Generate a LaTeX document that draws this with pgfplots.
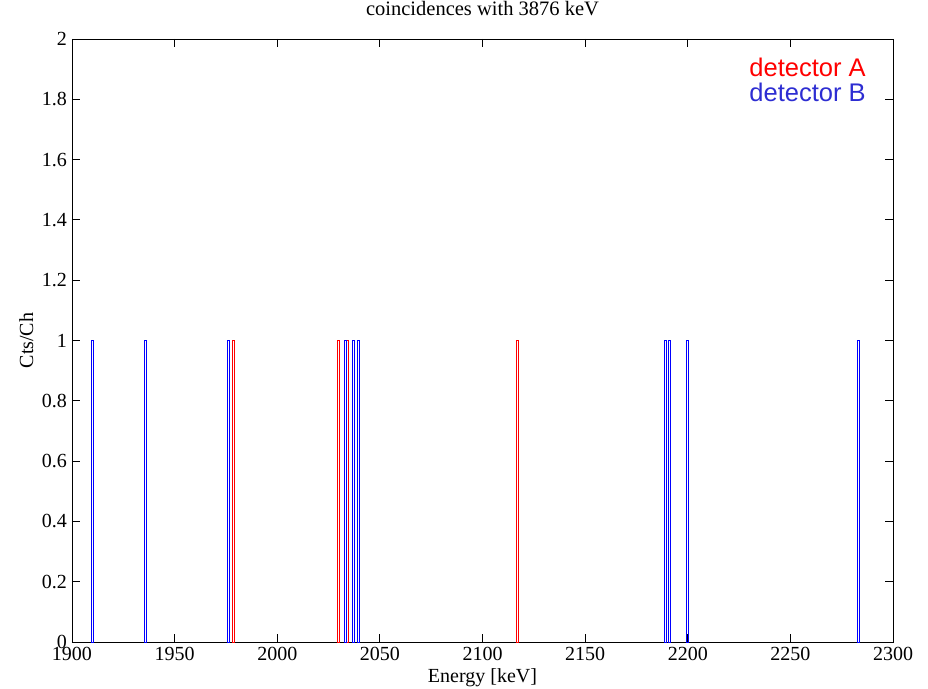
\documentclass[border=0pt]{standalone}
\usepackage{fontspec}
\setmainfont{Liberation Serif}
\newfontfamily\arialf{Liberation Sans}
\usepackage{pgfplots}
\pgfplotsset{compat=1.18}
\definecolor{legB}{RGB}{45,45,210}
\begin{document}
\begin{tikzpicture}
\begin{axis}[
  name=ax,
  scale only axis,
  width=821bp, height=603bp,
  xmin=1900, xmax=2300, ymin=0, ymax=2,
  xtick={1900,1950,...,2300},
  ytick={0,0.2,...,2},
  yticklabels={0,0.2,0.4,0.6,0.8,1,1.2,1.4,1.6,1.8,2},
  /pgf/number format/assume math mode=true,
  xticklabel style={/pgf/number format/1000 sep={}},
  tick align=inside,
  major tick length=8bp,
  axis line style={line width=0.8bp},
  tick style={line width=0.8bp, black},
  font=\fontsize{20bp}{24bp}\selectfont,
  ticklabel style={font=\fontsize{20bp}{24bp}\selectfont},
  xticklabel style={anchor=north, inner sep=0pt, yshift=-5bp},
  yticklabel style={anchor=east, inner sep=0pt, xshift=-5bp},
  title={coincidences with 3876 keV},
  title style={at={(axis description cs:0.5,1)}, anchor=base, yshift=18bp, inner sep=0pt, font=\fontsize{20.5bp}{24bp}\selectfont},
  xlabel={Energy [keV]},
  xlabel style={at={(axis description cs:0.5,0)}, anchor=base, yshift=-40bp, inner sep=0pt},
  ylabel={Cts/Ch},
  ylabel style={at={(axis description cs:-0.0475,0.5)}, anchor=base, inner sep=0pt},
  clip=false,
]
% detector A (red)
\addplot[ybar, bar width=1, bar shift=0pt, draw=red, fill=none, line width=0.9bp]
  coordinates {(1978.6,1) (2029.8,1) (2034.0,1) (2117.0,1)};
% detector B (blue)
\addplot[ybar, bar width=1, bar shift=0pt, draw=blue, fill=none, line width=0.9bp]
  coordinates {(1910.1,1) (1935.6,1) (1976.1,1) (2033.0,1) (2037.1,1) (2039.5,1)
               (2189.2,1) (2191.0,1) (2199.8,1) (2283.1,1)};
\node[anchor=base east, inner sep=0pt, text=red, font=\arialf\fontsize{25.5bp}{27bp}\selectfont]
  at (axis description cs:0.967,0.9386) {detector A};
\node[anchor=base east, inner sep=0pt, text=legB, font=\arialf\fontsize{25.5bp}{27bp}\selectfont]
  at (axis description cs:0.967,0.896) {detector B};
\end{axis}
\path (ax.south west) ++(-72bp,-47bp) coordinate (bbA);
\path (ax.north east) ++(35bp,39bp) coordinate (bbB);
\path[use as bounding box] (bbA) rectangle (bbB);
\end{tikzpicture}
\end{document}
